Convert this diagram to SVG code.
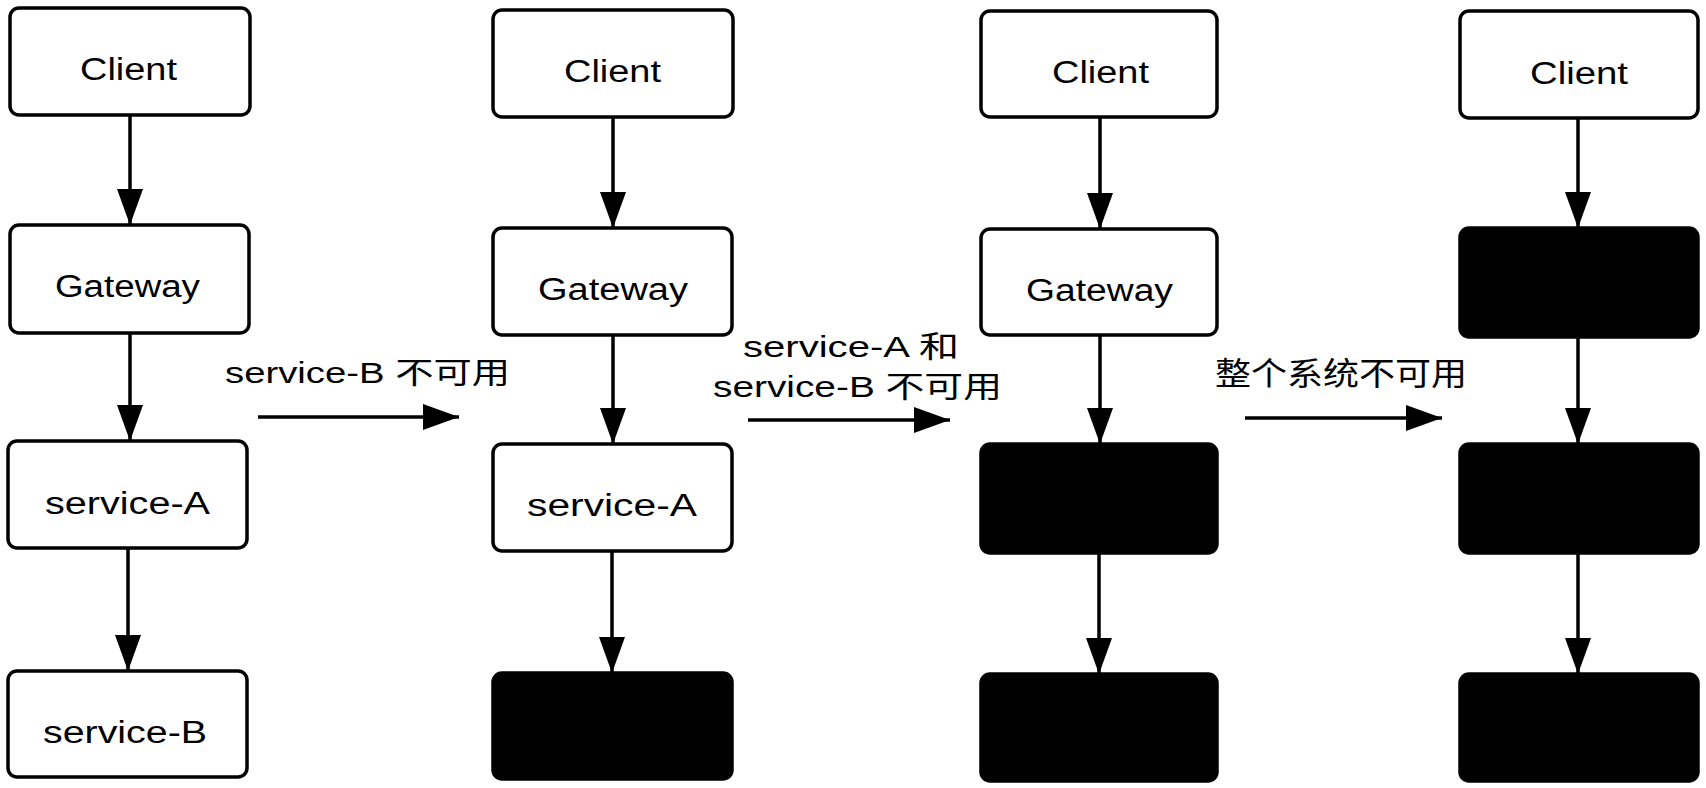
<svg xmlns="http://www.w3.org/2000/svg" width="1706" height="788" viewBox="0 0 1706 788">
<style>
  .box { fill: #ffffff; stroke: #000000; stroke-width: 3.5; }
  .dead { fill: #000000; stroke: #000000; stroke-width: 3.5; }
  .lbl { font-family: "Liberation Sans", "Noto Sans CJK SC", sans-serif; font-size: 31px; fill: #000000; }
  .note { font-family: "Liberation Sans", "Noto Sans CJK SC", sans-serif; font-size: 30px; fill: #000000; }
  .cjk { font-family: "Noto Sans CJK SC", "Liberation Sans", sans-serif; font-size: 32px; fill: #000000; }
  .conn { stroke: #000000; stroke-width: 3.5; fill: none; marker-end: url(#arrow); }
</style>
<defs>
  <marker id="arrow" markerUnits="userSpaceOnUse" markerWidth="36" markerHeight="26" viewBox="0 0 36 26" refX="36" refY="13" orient="auto">
    <path d="M0,0 L36,13 L0,26 Z" fill="#000000"/>
  </marker>
</defs>
<rect width="1706" height="788" fill="#ffffff"/>

<!-- Column 1 -->
<g id="c1-client"><rect class="box" x="10" y="8" width="240" height="107" rx="9"/><text class="lbl" x="80" y="80" textLength="97" lengthAdjust="spacingAndGlyphs">Client</text></g>
<g id="c1-gateway"><rect class="box" x="10" y="225" width="239" height="108" rx="9"/><text class="lbl" x="55" y="297" textLength="145" lengthAdjust="spacingAndGlyphs">Gateway</text></g>
<g id="c1-serviceA"><rect class="box" x="8" y="441" width="239" height="107" rx="9"/><text class="lbl" x="45" y="514" textLength="165" lengthAdjust="spacingAndGlyphs">service-A</text></g>
<g id="c1-serviceB"><rect class="box" x="8" y="671" width="239" height="106" rx="9"/><text class="lbl" x="43" y="743" textLength="164" lengthAdjust="spacingAndGlyphs">service-B</text></g>

<!-- Column 2 -->
<g id="c2-client"><rect class="box" x="493" y="10" width="240" height="107" rx="9"/><text class="lbl" x="564" y="82" textLength="97" lengthAdjust="spacingAndGlyphs">Client</text></g>
<g id="c2-gateway"><rect class="box" x="493" y="228" width="239" height="107" rx="9"/><text class="lbl" x="538" y="300" textLength="150" lengthAdjust="spacingAndGlyphs">Gateway</text></g>
<g id="c2-serviceA"><rect class="box" x="493" y="444" width="239" height="107" rx="9"/><text class="lbl" x="527" y="516" textLength="170" lengthAdjust="spacingAndGlyphs">service-A</text></g>
<g id="c2-serviceB"><rect class="dead" x="493" y="673" width="239" height="106" rx="9"/></g>

<!-- Column 3 -->
<g id="c3-client"><rect class="box" x="981" y="11" width="236" height="106" rx="9"/><text class="lbl" x="1052" y="83" textLength="97" lengthAdjust="spacingAndGlyphs">Client</text></g>
<g id="c3-gateway"><rect class="box" x="981" y="229" width="236" height="106" rx="9"/><text class="lbl" x="1026" y="301" textLength="147" lengthAdjust="spacingAndGlyphs">Gateway</text></g>
<g id="c3-serviceA"><rect class="dead" x="981" y="444" width="236" height="109" rx="9"/></g>
<g id="c3-serviceB"><rect class="dead" x="981" y="674" width="236" height="107" rx="9"/></g>

<!-- Column 4 -->
<g id="c4-client"><rect class="box" x="1460" y="11" width="238" height="107" rx="9"/><text class="lbl" x="1530" y="84" textLength="98" lengthAdjust="spacingAndGlyphs">Client</text></g>
<g id="c4-gateway"><rect class="dead" x="1460" y="228" width="238" height="109" rx="9"/></g>
<g id="c4-serviceA"><rect class="dead" x="1460" y="444" width="238" height="109" rx="9"/></g>
<g id="c4-serviceB"><rect class="dead" x="1460" y="674" width="238" height="107" rx="9"/></g>

<!-- Transition labels -->
<g id="label-1"><text class="note" x="225" y="383" textLength="285" lengthAdjust="spacingAndGlyphs">service-B 不可用</text></g>
<g id="label-2">
  <text class="note" x="743" y="357" textLength="216" lengthAdjust="spacingAndGlyphs">service-A 和</text>
  <text class="note" x="713" y="397" textLength="289" lengthAdjust="spacingAndGlyphs">service-B 不可用</text>
</g>
<g id="label-3"><text class="cjk" x="1215" y="385" textLength="252" lengthAdjust="spacingAndGlyphs">整个系统不可用</text></g>

<!-- Connectors -->
<g id="connectors">
  <line class="conn" x1="130" y1="115" x2="130" y2="225"/>
  <line class="conn" x1="130" y1="333" x2="130" y2="441"/>
  <line class="conn" x1="128" y1="548" x2="128" y2="671"/>

  <line class="conn" x1="613" y1="117" x2="613" y2="228"/>
  <line class="conn" x1="613" y1="335" x2="613" y2="444"/>
  <line class="conn" x1="612" y1="551" x2="612" y2="673"/>

  <line class="conn" x1="1100" y1="117" x2="1100" y2="229"/>
  <line class="conn" x1="1100" y1="335" x2="1100" y2="444"/>
  <line class="conn" x1="1099" y1="553" x2="1099" y2="674"/>

  <line class="conn" x1="1578" y1="118" x2="1578" y2="228"/>
  <line class="conn" x1="1578" y1="337" x2="1578" y2="444"/>
  <line class="conn" x1="1578" y1="553" x2="1578" y2="674"/>

  <line class="conn" x1="258" y1="417" x2="459" y2="417"/>
  <line class="conn" x1="748" y1="420" x2="950" y2="420"/>
  <line class="conn" x1="1245" y1="418" x2="1442" y2="418"/>
</g>
</svg>
